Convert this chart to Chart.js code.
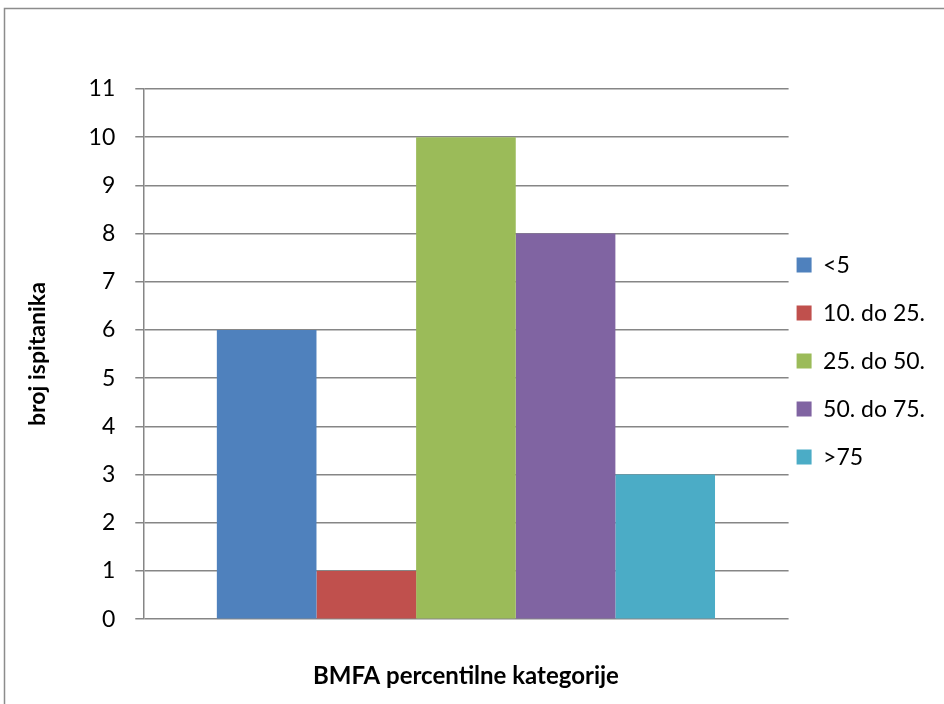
<!DOCTYPE html>
<html>
<head>
<meta charset="utf-8">
<script src="https://cdn.jsdelivr.net/npm/chart.js@4"></script>
<style>
  html, body { margin: 0; padding: 0; background: #fff; }
  #wrap { position: relative; width: 944px; height: 704px; }
</style>
</head>
<body>
<div id="wrap"><canvas id="myChart" width="944" height="704"></canvas></div>
<script>
const categories = [''];
const seriesNames = ['<5', '10. do 25.', '25. do 50.', '50. do 75.', '>75'];
const seriesValues = [6, 1, 10, 8, 3];
const seriesColors = ['#4F81BD', '#C0504D', '#9BBB59', '#8064A2', '#4BACC6'];
const yMin = 0, yMax = 11, yStep = 1;
const xTitle = 'BMFA percentilne kategorije';
const yTitle = 'broj ispitanika';

const fontFamily = 'Lato, "Open Sans", sans-serif';
const gridColor = '#868686';
const legendPadding = 25;

// outer frame of the chart object
const framePlugin = {
    id: 'frame',
    beforeDraw(chart) {
        const ctx = chart.ctx;
        ctx.save();
        ctx.fillStyle = '#fff';
        ctx.fillRect(0, 0, chart.width, chart.height);
        ctx.strokeStyle = '#8c8c8c';
        ctx.lineWidth = 1.5;
        ctx.beginPath();
        ctx.moveTo(4.5, chart.height + 5);
        ctx.lineTo(4.5, 8.5);
        ctx.lineTo(chart.width + 5, 8.5);
        ctx.stroke();
        ctx.restore();
    }
};

// pull the legend close to the plot and centre it on the plot
const legendPlace = {
    id: 'legendPlace',
    afterLayout(chart) {
        const lg = chart.legend, area = chart.chartArea;
        const w = lg.right - lg.left;
        lg.left = area.right + 8 - legendPadding;
        lg.right = lg.left + w;
        const dy = (area.top + area.bottom) / 2 + 7 - (lg.top + lg.bottom) / 2;
        lg.top += dy;
        lg.bottom += dy;
    }
};

const datasets = seriesNames.map((name, i) => ({
    label: name,
    data: [seriesValues[i]],
    backgroundColor: seriesColors[i],
    borderWidth: 0,
    barPercentage: 1,
    categoryPercentage: 0.772
}));

const config = {
    type: 'bar',
    data: { labels: categories, datasets: datasets },
    options: {
        responsive: false,
        animation: false,
        layout: { padding: { top: 89, left: 22, right: -8, bottom: 13 } },
        plugins: {
            legend: {
                position: 'right',
                align: 'center',
                labels: {
                    boxWidth: 15,
                    boxHeight: 15,
                    padding: legendPadding,
                    color: '#000',
                    font: { family: fontFamily, size: 23 }
                }
            },
            tooltip: { enabled: false }
        },
        scales: {
            x: {
                ticks: { display: false },
                grid: { display: false },
                border: { display: false },
                title: {
                    display: true,
                    text: xTitle,
                    color: '#000',
                    font: { family: fontFamily, size: 24, weight: 'bold' },
                    padding: { top: 35, bottom: 0 }
                }
            },
            y: {
                min: yMin,
                max: yMax,
                ticks: {
                    stepSize: yStep,
                    color: '#000',
                    padding: 20,
                    font: { family: fontFamily, size: 23 }
                },
                grid: {
                    color: gridColor,
                    lineWidth: 1.5,
                    tickLength: 8,
                    tickColor: gridColor
                },
                border: { color: gridColor, width: 1.5 },
                title: {
                    display: true,
                    text: yTitle,
                    color: '#000',
                    font: { family: fontFamily, size: 23, weight: 'bold' },
                    padding: { top: 2, bottom: 17 }
                }
            }
        }
    },
    plugins: [framePlugin, legendPlace]
};

const myChart = new Chart(document.getElementById('myChart'), config);
</script>
</body>
</html>
